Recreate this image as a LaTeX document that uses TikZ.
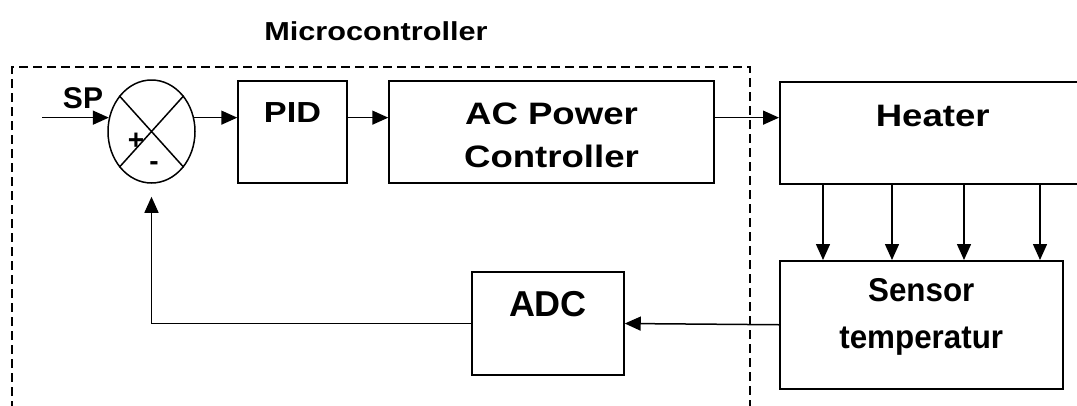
\documentclass[tikz,border=0pt]{standalone}
\usepackage{fontspec}
\setmainfont{Liberation Sans}
\newfontfamily\widefont{Liberation Sans}[FakeStretch=1.18]
\newfontfamily\narrowfont{Liberation Sans}[FakeStretch=0.95]
\usetikzlibrary{shapes.geometric, arrows.meta, positioning}

\begin{document}
\begin{tikzpicture}[
    x=1pt, y=-1pt,
    arr/.style={-{Triangle[length=16pt, width=14pt]}, line width=1.5pt},
    box/.style={draw, line width=1.5pt, inner sep=0pt},
    txt/.style={inner sep=0pt, align=center},
    frame/.style={dash pattern=on 9pt off 5pt, line width=1.4pt}
  ]
  \useasboundingbox (0,0) rectangle (1077,405);
  \clip (0,0) rectangle (1077,405);

  % microcontroller border
  \coordinate (fbl) at (12,410);
  \coordinate (ftr) at (750,67);
  \draw[frame] (fbl) |- (ftr) -- (ftr |- fbl);
  \node[txt, font=\widefont\bfseries\fontsize{26}{30}\selectfont] (mcu) at (376,31) {Microcontroller};

  % summing point
  \node[box, ellipse, minimum width=87pt, minimum height=103pt] (sum) at (151.5,131.5) {};
  \draw[line width=1.5pt] (sum.48) -- (sum.228) (sum.132) -- (sum.312);
  \node[txt, font=\bfseries\fontsize{28}{30}\selectfont] (plus) at (136,141) {+};
  \node[txt, font=\bfseries\fontsize{28}{30}\selectfont] (minus) at (154,166) {-};
  \node[txt, font=\bfseries\fontsize{30}{34}\selectfont] (sp) at (83,98) {SP};
  \coordinate (spin) at (42,118);

  % blocks
  \node[box, minimum width=109pt, minimum height=102pt] (pid) at (292.5,132) {};
  \node[txt, font=\widefont\bfseries\fontsize{29}{34}\selectfont, below=22pt of pid.north] (pidtxt) {PID};

  \node[box, minimum width=325pt, minimum height=102pt] (acp) at (551.5,132) {};
  \node[txt, font=\widefont\bfseries\fontsize{31}{43}\selectfont, below=22pt of acp.north] (acptxt) {AC Power\\Controller};

  \node[box, anchor=north west, minimum width=306pt, minimum height=102pt] (heater) at (779,81) {};
  \node[txt, font=\widefont\bfseries\fontsize{31}{36}\selectfont, below=24pt of heater.north] (heatertxt) {Heater};

  \node[box, anchor=north west, minimum width=283pt, minimum height=128pt] (sensor) at (779,260) {};
  \node[txt, font=\narrowfont\bfseries\fontsize{33}{47}\selectfont, below=18pt of sensor.north] (sensortxt) {Sensor\\temperatur};

  \node[box, minimum width=152pt, minimum height=103pt] (adc) at (548,323.5) {};
  \node[txt, font=\bfseries\fontsize{36}{40}\selectfont, below=20pt of adc.north] (adctxt) {ADC};

  % connections
  \draw[arr] (sum.162 -| spin) -- (sum.162);
  \draw[arr] (sum.18) -- (sum.18 -| pid.west);
  \draw[arr] (sum.18 -| pid.east) -- (sum.18 -| acp.west);
  \draw[arr] (sum.18 -| acp.east) -- (sum.18 -| heater.west);
  \foreach \dx in {44,113,185,261}
    \draw[arr] ([xshift=\dx pt]heater.south west) -- ([xshift=\dx pt]sensor.north west);
  \draw[arr] (sensor.west) -- (adc.east);
  \draw[arr, shorten >=13pt] (adc.west) -| (sum.south);
\end{tikzpicture}
\end{document}
